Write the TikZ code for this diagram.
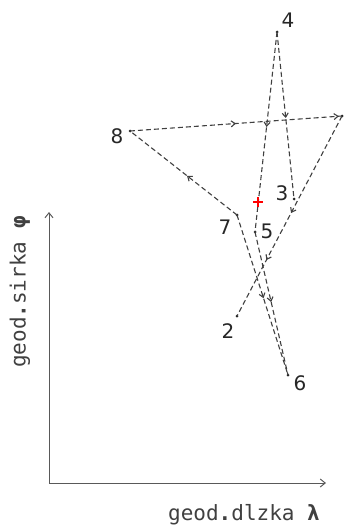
\documentclass[tikz,border=0pt]{standalone}
\usepackage{fontspec}
\setmainfont{DejaVu Sans}
\newfontfamily\plotmono{DejaVu Sans Mono}
\usetikzlibrary{decorations.markings,arrows.meta}
\tikzset{
  pt/.style={circle,fill=black!85,inner sep=0pt,minimum size=3pt},
  lab/.style={font=\fontsize{20}{20}\selectfont, text=black!85},
  axlab/.style={font=\plotmono\fontsize{21}{21}\selectfont, text=black!75},
  dl/.style={draw=black!75, dash pattern=on 5pt off 3pt, line width=1.1pt},
  barb/.tip={Straight Barb[length=4pt,width=6pt]},
  am/.style={postaction={decorate},decoration={markings,mark=at position #1 with {\arrow{barb}}}},
  amm/.style 2 args={postaction={decorate},decoration={markings,
     mark=at position #1 with {\arrow{barb}},mark=at position #2 with {\arrow{barb}}}},
  axis/.style={draw=black!65, line width=1pt, -{Straight Barb[length=5pt,width=8pt]}},
}
\begin{document}
\begin{tikzpicture}[x=1pt,y=1pt]
\useasboundingbox (0,0) rectangle (348,-527);
% points
\node[pt] (p4) at (277,-32) {};
\node[pt] (p8) at (130,-131) {};
\node[pt] (pR) at (342,-116) {};
\node[pt] (p3) at (294,-199) {};
\node[pt] (p7) at (237,-215) {};
\node[pt] (p5) at (255,-232) {};
\node[pt] (p2) at (237,-316) {};
\node[pt] (p6) at (288,-375) {};
% labels
\node[lab] (l4) at (288,-20) {4};
\node[lab] (l8) at (117,-136) {8};
\node[lab] (l3) at (282,-193) {3};
\node[lab] (l7) at (225,-227) {7};
\node[lab] (l5) at (267,-231) {5};
\node[lab] (l2) at (228,-331) {2};
\node[lab] (l6) at (300,-383) {6};
% traverse lines
\draw[dl, amm={0.5}{0.985}] (p8.center) -- (pR.center);
\draw[dl, amm={0.485}{0.72}] (pR.center) -- (p2.center);
\draw[dl, am=0.515] (p4.center) -- (p3.center);
\draw[dl, am=0.475] (p4.center) -- (p5.center);
\draw[dl, am=0.467] (p7.center) -- (p8.center);
\draw[dl, am=0.52] (p7.center) -- (p6.center);
\draw[dl, am=0.49] (p5.center) -- (p6.center);
% red cross
\draw[red, line width=1.3pt] (253,-202) -- (263,-202) (258,-197) -- (258,-207);
% axes
\coordinate (O) at (49,-483);
\coordinate (Y) at (49,-212);
\coordinate (X) at (326,-483);
\draw[axis] (O) -- (Y);
\draw[axis] (O) -- (X);
\node[axlab] (xl) at (244,-515) {geod{\bfseries .}dlzka \textbf{λ}};
\node[axlab, rotate=90] (yl) at (20,-292) {geod{\bfseries .}sirka \textbf{φ}};
\end{tikzpicture}
\end{document}
